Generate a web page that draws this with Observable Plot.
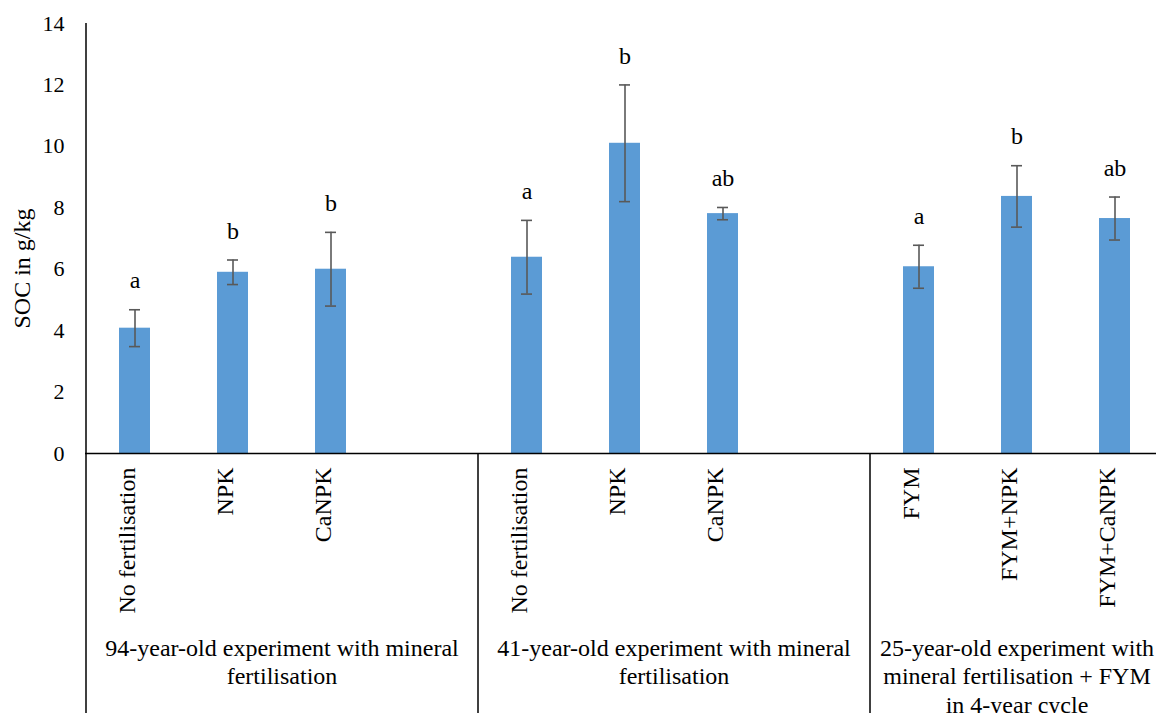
<!DOCTYPE html>
<html><head><meta charset="utf-8">
<script src="https://cdn.jsdelivr.net/npm/d3@7"></script>
<script src="https://cdn.jsdelivr.net/npm/@observablehq/plot@0.6"></script>
<style>
html,body{margin:0;padding:0;background:#fff;overflow:hidden;}
svg text{font-family:'Liberation Serif','Times New Roman',serif !important;}
</style></head><body><div id="chart"></div>
<script>
// ---- data ----
const groups = [
  "94-year-old experiment with mineral\nfertilisation",
  "41-year-old experiment with mineral\nfertilisation",
  "25-year-old experiment with\nmineral fertilisation + FYM\nin 4-year cycle"
];
const treatments = [
  ["No fertilisation", "NPK", "CaNPK"],
  ["No fertilisation", "NPK", "CaNPK"],
  ["FYM", "FYM+NPK", "FYM+CaNPK"]
];
const soc = [
  [4.08, 5.90, 6.00],
  [6.39, 10.10, 7.81],
  [6.08, 8.37, 7.65]
];
const sd = [
  [0.60, 0.40, 1.20],
  [1.20, 1.90, 0.20],
  [0.70, 1.00, 0.70]
];
const letters = [
  ["a", "b", "b"],
  ["a", "b", "ab"],
  ["a", "b", "ab"]
];
const yTicks = [0, 2, 4, 6, 8, 10, 12, 14];
const yTitle = "SOC in g/kg";

// ---- layout ----
const W = 1156, H = 713;
const mL = 85, mT = 23, mB = 260;
const xEnd = 1163;
const slots = [];
const rows = [];
groups.forEach((g, i) => {
  treatments[i].forEach((t, j) => {
    const key = i + "|" + j;
    slots.push(key);
    rows.push({slot: key, treatment: t, soc: soc[i][j], sd: sd[i][j], letter: letters[i][j]});
  });
  if (i < groups.length - 1) slots.push(i + "|s");
});
const step = (xEnd - mL) / slots.length;
const font = "'Liberation Serif', 'Times New Roman', serif";
const errColor = "#595959";

const groupMarks = groups.map((g, i) => {
  const n = treatments[i].length + (i < groups.length - 1 ? 1 : 0);
  const mid = (n - 1) / 2;
  const key = i + "|" + Math.floor(mid);
  const dx = (mid - Math.floor(mid)) * step;
  return Plot.text([g], {
    x: [key], text: d => d, frameAnchor: "bottom", dy: 182, dx,
    lineAnchor: "top", lineHeight: 1.19, fontSize: 24, fontFamily: font, fill: "#000"
  });
});

const chart = Plot.plot({
  width: W, height: H,
  marginLeft: mL, marginTop: mT, marginBottom: mB, marginRight: 0,
  style: {fontFamily: font, fontSize: "24px", color: "#000", background: "#fff", overflow: "visible"},
  x: {type: "band", domain: slots, range: [mL, xEnd], paddingInner: 0.687, paddingOuter: 0.3435, axis: null},
  y: {domain: [0, 14], axis: null},
  marks: [
    Plot.barY(rows, {x: "slot", y: "soc", fill: "#5B9BD5"}),
    Plot.ruleX(rows, {x: "slot", y1: d => d.soc - d.sd, y2: d => d.soc + d.sd, stroke: errColor, strokeWidth: 1.6}),
    Plot.tickY(rows, {x: "slot", y: d => d.soc + d.sd, stroke: errColor, strokeWidth: 1.6, insetLeft: 10, insetRight: 10}),
    Plot.tickY(rows, {x: "slot", y: d => d.soc - d.sd, stroke: errColor, strokeWidth: 1.6, insetLeft: 10, insetRight: 10}),
    Plot.text(rows, {x: "slot", y: d => d.soc + d.sd, text: "letter", dy: -29, fontSize: 24, fontFamily: font, fill: "#000"}),
    Plot.ruleY([0], {stroke: "#000", strokeWidth: 1.5}),
    Plot.ruleX([slots[0]], {stroke: "#000", strokeWidth: 1.5, dx: -step / 2, insetBottom: -mB}),
    Plot.ruleX(slots.filter(s => s.endsWith("|0") && s !== slots[0]), {stroke: "#000", strokeWidth: 1.5, dx: -step / 2, insetTop: H - mT - mB, insetBottom: -mB}),
    Plot.axisY({ticks: yTicks, tickSize: 0, tickPadding: 21, fontSize: 22, fontFamily: font, label: null, tickFormat: d => String(d)}),
    Plot.text(rows, {x: "slot", text: "treatment", frameAnchor: "bottom", dy: 14, rotate: -90, textAnchor: "end", fontSize: 24, fontFamily: font, fill: "#000"}),
    Plot.text([yTitle], {text: d => d, frameAnchor: "left", textAnchor: "middle", dx: -63, dy: 30, rotate: -90, fontSize: 24, fontFamily: font, fill: "#000"}),
    ...groupMarks
  ]
});
document.getElementById("chart").appendChild(chart);
</script>
</body></html>
